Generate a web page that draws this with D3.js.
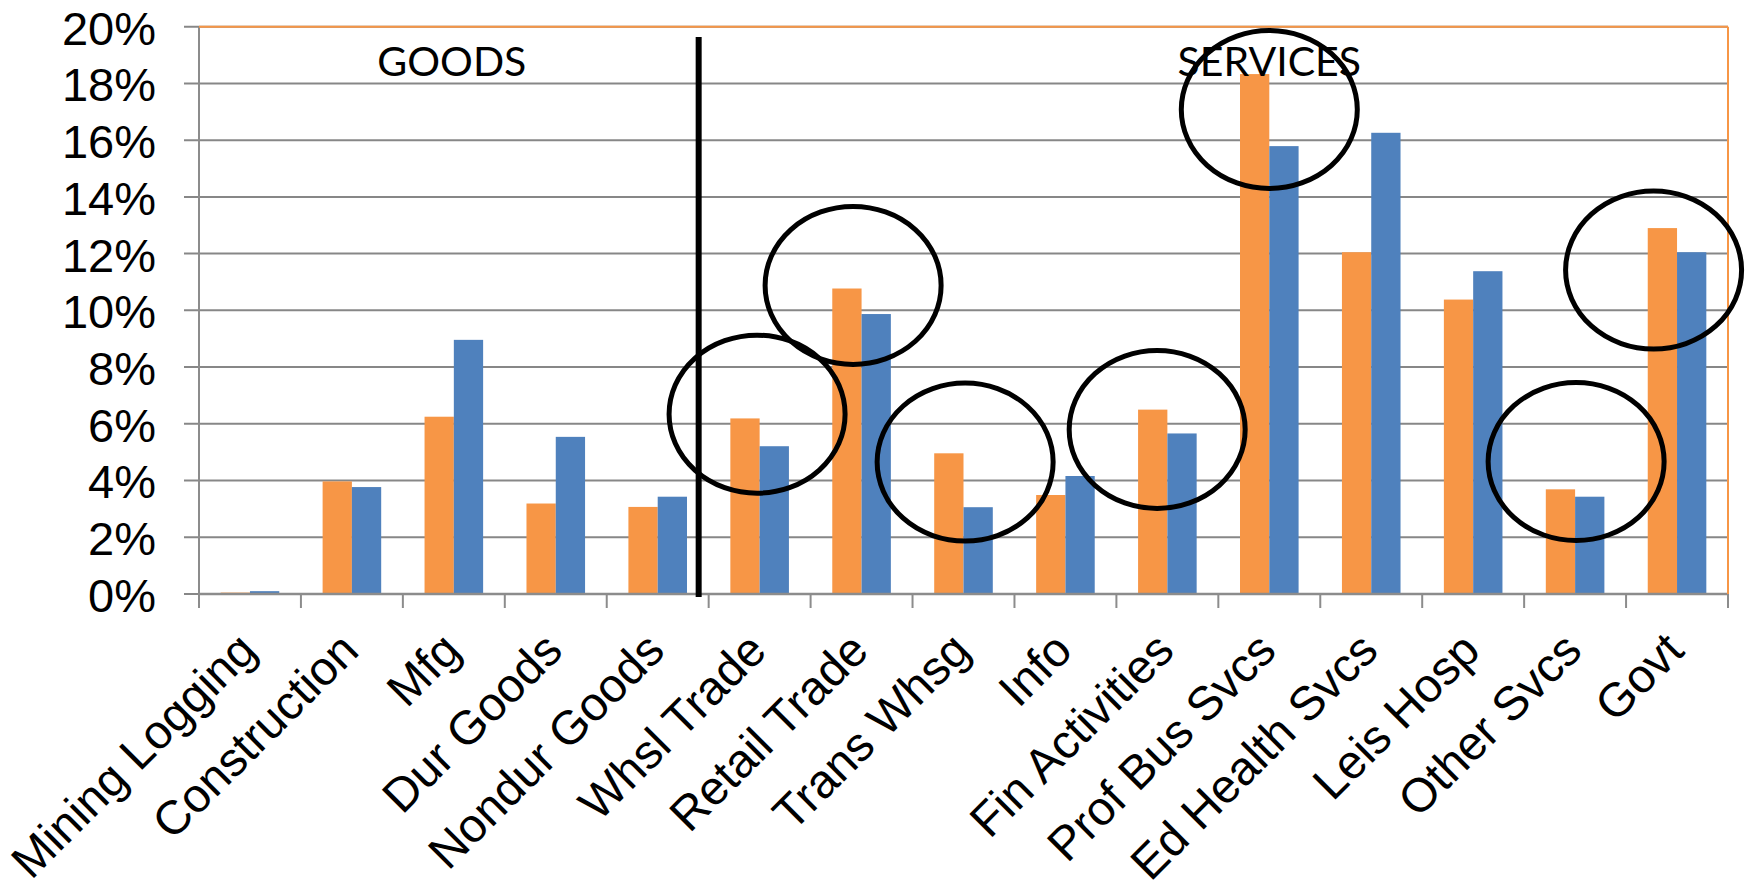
<!DOCTYPE html>
<html>
<head>
<meta charset="utf-8">
<script src="https://cdn.jsdelivr.net/npm/d3@7"></script>
<style>
  html, body { margin: 0; padding: 0; background: #fff; }
  svg { display: block; }
</style>
</head>
<body>
<svg id="chart" width="1748" height="882"></svg>
<script>
// ---- data ----
const categories = ["Mining Logging", "Construction", "Mfg", "Dur Goods", "Nondur Goods",
  "Whsl Trade", "Retail Trade", "Trans Whsg", "Info", "Fin Activities",
  "Prof Bus Svcs", "Ed Health Svcs", "Leis Hosp", "Other Svcs", "Govt"];
const seriesNames = ["Series1", "Series2"];
const series1 = [0.05, 3.97, 6.25, 3.19, 3.07, 6.19, 10.77, 4.96, 3.49, 6.50, 18.33, 12.05, 10.38, 3.69, 12.90];
const series2 = [0.10, 3.77, 8.96, 5.54, 3.43, 5.21, 9.87, 3.06, 4.16, 5.66, 15.79, 16.26, 11.38, 3.43, 12.05];
const yTickValues = [0, 2, 4, 6, 8, 10, 12, 14, 16, 18, 20];
const sectionLabels = ["GOODS", "SERVICES"];
const sectionSplit = "Whsl Trade";           // first services category
// highlighted categories: ellipse centre level (%) and shift in band units
const highlightCats = ["Whsl Trade", "Retail Trade", "Trans Whsg", "Fin Activities", "Prof Bus Svcs", "Other Svcs", "Govt"];
const highlightLevel = [6.34, 10.88, 4.65, 5.8, 17.08, 4.67, 11.42];
const highlightShift = [-0.025, -0.083, 0.016, -0.1, 0.0, 0.01, -0.23];

// ---- layout ----
const L = 199, R = 1728, T = 26.7, B = 594;
const colors = { s1: "#F79646", s2: "#4F81BD", grid: "#878787", axis: "#8C8C8C", border: "#F79646" };
const svg = d3.select("#chart");

const x = d3.scaleBand().domain(categories).range([L, R]).padding(0);
const xs = d3.scaleBand().domain(seriesNames).range([0, x.bandwidth()]).paddingInner(0).paddingOuter(0.74);
const y = d3.scaleLinear().domain([0, 20]).range([B, T]);

// gridlines
svg.append("g").selectAll("line").data(yTickValues).join("line")
  .attr("x1", L - 15).attr("x2", R)
  .attr("y1", d => y(d)).attr("y2", d => y(d))
  .attr("stroke", colors.grid).attr("stroke-width", 2);

// y labels via axis
const yAxis = svg.append("g").attr("transform", `translate(${L},0)`)
  .call(d3.axisLeft(y).tickValues(yTickValues).tickFormat(d => d + "%").tickSize(0).tickPadding(43));
yAxis.select(".domain").remove();
yAxis.selectAll("text")
  .attr("font-family", "'Liberation Sans', Arial, sans-serif")
  .attr("font-size", 47).attr("fill", "#000").attr("dy", "0.37em");

// bars
const rows = categories.map((c, i) => ({ cat: c, vals: [series1[i], series2[i]] }));
const groups = svg.append("g").selectAll("g").data(rows).join("g")
  .attr("transform", d => `translate(${x(d.cat)},0)`);
groups.selectAll("rect").data(d => d.vals.map((v, k) => ({ k, v }))).join("rect")
  .attr("x", d => xs(seriesNames[d.k]))
  .attr("width", xs.bandwidth())
  .attr("y", d => y(d.v))
  .attr("height", d => B - y(d.v))
  .attr("fill", d => d.k === 0 ? colors.s1 : colors.s2);

// axes lines
svg.append("line").attr("x1", L).attr("x2", L).attr("y1", T).attr("y2", B + 14)
  .attr("stroke", colors.axis).attr("stroke-width", 2);
svg.append("line").attr("x1", L).attr("x2", R).attr("y1", B).attr("y2", B)
  .attr("stroke", colors.axis).attr("stroke-width", 2.5);
// category boundary ticks
const bounds = categories.map(c => x(c)).concat([x.range()[1]]);
svg.append("g").selectAll("line").data(bounds).join("line")
  .attr("x1", d => d).attr("x2", d => d).attr("y1", B).attr("y2", B + 14)
  .attr("stroke", colors.axis).attr("stroke-width", 2);

// plot border (top + right) orange
svg.append("line").attr("x1", L).attr("x2", R).attr("y1", T).attr("y2", T)
  .attr("stroke", colors.border).attr("stroke-width", 2);
svg.append("line").attr("x1", R).attr("x2", R).attr("y1", T).attr("y2", B)
  .attr("stroke", colors.border).attr("stroke-width", 2);

// x labels
svg.append("g").selectAll("text").data(categories).join("text")
  .attr("transform", d => `translate(${x(d) + x.bandwidth() / 2 + 9},653) rotate(-45)`)
  .attr("text-anchor", "end")
  .attr("font-family", "'Liberation Sans', Arial, sans-serif")
  .attr("font-size", 47.5).attr("fill", "#000")
  .text(d => d);

// section divider
const splitX = x(sectionSplit) - 10;
svg.append("line").attr("x1", splitX).attr("x2", splitX).attr("y1", 37).attr("y2", 597)
  .attr("stroke", "#000").attr("stroke-width", 6);

// section labels
const goodsCenter = (x(categories[0]) + x(sectionSplit)) / 2 - 2;
const servicesCenter = x("Prof Bus Svcs") + x.bandwidth() / 2;
svg.append("g").selectAll("text").data(sectionLabels).join("text")
  .attr("x", (d, i) => i === 0 ? goodsCenter : servicesCenter)
  .attr("y", 76)
  .attr("text-anchor", "middle")
  .attr("font-family", "Lato, 'Open Sans', sans-serif")
  .attr("font-size", 41).attr("fill", "#000")
  .text(d => d);

// highlight ellipses
svg.append("g").selectAll("ellipse").data(highlightCats).join("ellipse")
  .attr("cx", (d, i) => x(d) + x.bandwidth() * (0.5 + highlightShift[i]))
  .attr("cy", (d, i) => y(highlightLevel[i]))
  .attr("rx", 88).attr("ry", 79)
  .attr("fill", "none").attr("stroke", "#000").attr("stroke-width", 5);
</script>
</body>
</html>
